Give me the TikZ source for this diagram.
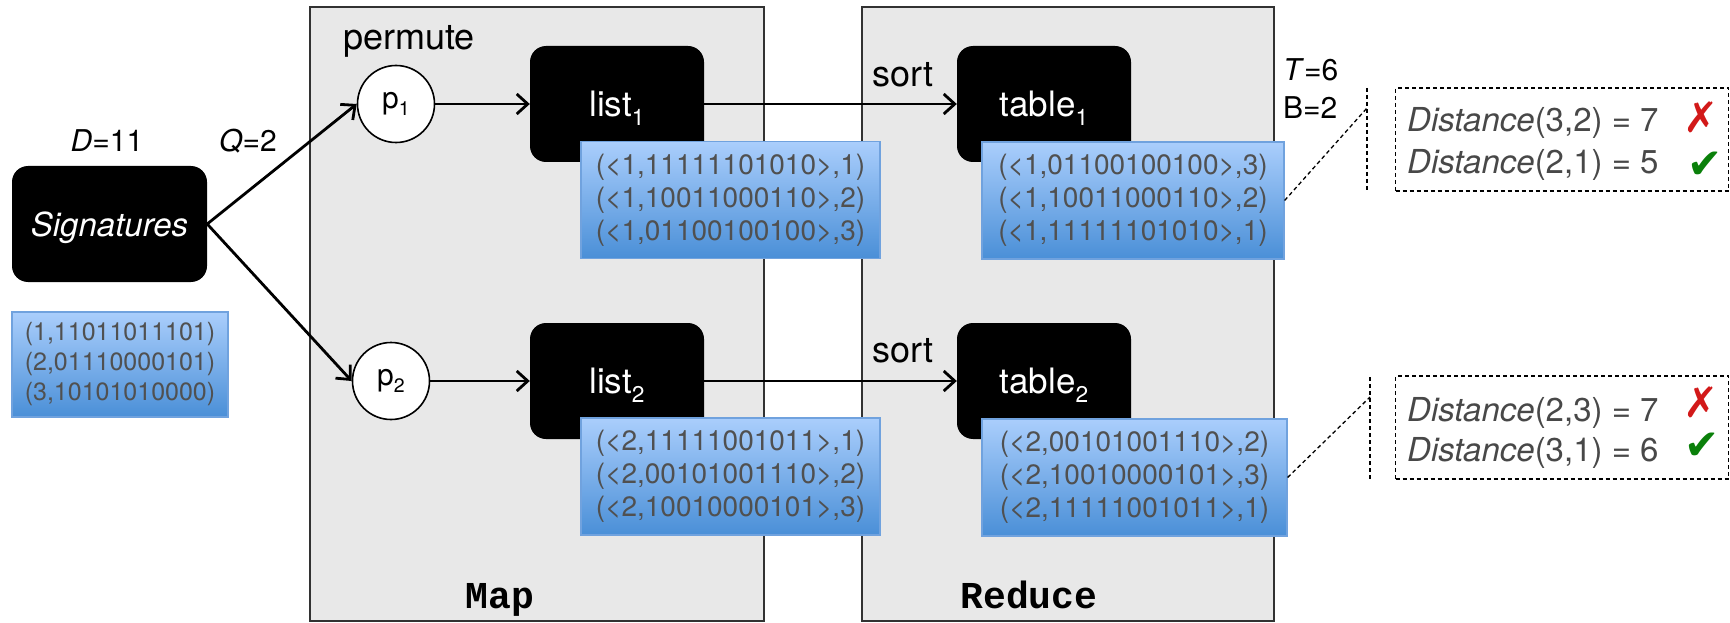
\documentclass[tikz,border=0pt]{standalone}
\usepackage{fontspec}
\setmainfont{TeX Gyre Heros}
\newfontfamily\monob{Liberation Mono}
\newfontfamily\symf{DejaVu Sans}
\usetikzlibrary{arrows.meta}

\definecolor{panelgray}{RGB}{232,232,232}
\definecolor{panelline}{RGB}{50,50,50}
\definecolor{bluetop}{RGB}{170,206,252}
\definecolor{bluebot}{RGB}{74,143,215}
\definecolor{blueedge}{RGB}{112,162,222}
\definecolor{recgray}{RGB}{80,80,80}
\definecolor{distgray}{RGB}{72,72,72}
\definecolor{crossred}{RGB}{210,25,25}
\definecolor{tickgreen}{RGB}{10,128,10}

\newcommand\fs[2]{\fontsize{#1}{#2}\selectfont}
\newcommand\lowidx[1]{\raisebox{-0.26em}{\scalebox{0.65}{#1}}}

\begin{document}
\begin{tikzpicture}[x=1pt,y=-1pt,
  panel/.style={draw=panelline, fill=panelgray, line width=1.6pt, inner sep=0pt},
  blackbox/.style={fill=black, rounded corners=16pt, minimum width=174pt,
    minimum height=116pt, text=white, inner sep=0pt, text depth=0pt, font=\fs{35}{40}},
  record/.style={draw=blueedge, line width=1.2pt, top color=bluetop, bottom color=bluebot,
    text=recgray, align=center, inner sep=0pt, minimum width=300pt,
    minimum height=117pt, font=\fs{28}{33}},
  perm/.style={circle, draw=black, fill=white, line width=1.6pt, minimum size=77pt,
    inner sep=0pt, font=\fs{30}{30}},
  flow/.style={line width=2.8pt, -{Straight Barb[length=11pt,width=20pt,line width=2.8pt]}},
  guide/.style={line width=1.3pt, dash pattern=on 4pt off 3pt},
  lbl/.style={inner sep=0pt, anchor=base, font=\fs{30}{30}},
  steplbl/.style={inner sep=0pt, anchor=base, font=\fs{36}{36}},
  phase/.style={inner sep=0pt, anchor=base, font=\monob\bfseries\fs{38}{38}},
  distbox/.style={guide, draw, minimum width=333pt, minimum height=103pt, inner sep=0pt},
  disttxt/.style={inner sep=0pt, anchor=base west, text=distgray, font=\fs{33}{33}},
  verdict/.style={inner sep=0pt, font=\symf\fs{42}{42}},
]
\useasboundingbox (0,0) rectangle (1730,623);

% Map and Reduce panels
\node[panel, minimum width=454pt, minimum height=614pt] (map) at (537,314) {};
\node[panel, minimum width=412pt, minimum height=614pt] (reduce) at (1068,314) {};
\node[phase] (maplbl) at (500,608) {Map};
\node[phase] (reducelbl) at (1029,608) {Reduce};

% input signatures
\node[blackbox, minimum width=195pt, font=\itshape\fs{33}{40}] (sig) at (109.5,224) {Signatures};
\node[lbl] (dval) at (107,152) {\textit{D}=11};
\node[lbl] (qval) at (248,152) {\textit{Q}=2};
\node[record, minimum width=216pt, minimum height=105pt, font=\fs{25}{30}] (sigrec) at (120,364.5)
  {(1,11011011101)\\(2,01110000101)\\(3,10101010000)};

% permutations
\node[steplbl] (permlbl) at (409,50) {permute};
\node[perm] (p1) at (396,104) {p\lowidx{1}};
\node[perm] (p2) at (391,381) {p\lowidx{2}};

% lists and tables
\node[blackbox] (list1) at (617,104) {list\lowidx{1}};
\node[blackbox] (list2) at (617,381) {list\lowidx{2}};
\node[blackbox] (table1) at (1044,104) {table\lowidx{1}};
\node[blackbox] (table2) at (1044,381) {table\lowidx{2}};
\node[steplbl] (sort1) at (903,87) {sort};
\node[steplbl] (sort2) at (903,362) {sort};

% flow arrows
\draw[flow] (sig.east) -- (p1.west);
\draw[flow] (sig.east) -- (p2.west);
\draw[flow] (p1.east) -- (list1.west);
\draw[flow] (p2.east) -- (list2.west);
\draw[flow] (list1.east) -- (table1.west);
\draw[flow] (list2.east) -- (table2.west);

% records
\node[record, minimum width=299pt] (l1rec) at (730.5,200)
  {(<1,11111101010>,1)\\(<1,10011000110>,2)\\(<1,01100100100>,3)};
\node[record, minimum width=299pt] (l2rec) at (730.5,476.5)
  {(<2,11111001011>,1)\\(<2,00101001110>,2)\\(<2,10010000101>,3)};
\node[record, minimum width=302pt] (t1rec) at (1133,200.5)
  {(<1,01100100100>,3)\\(<1,10011000110>,2)\\(<1,11111101010>,1)};
\node[record, minimum width=305pt] (t2rec) at (1134.5,477.5)
  {(<2,00101001110>,2)\\(<2,10010000101>,3)\\(<2,11111001011>,1)};

% parameters
\node[lbl, anchor=base west] (tval) at (1283,81) {\textit{T}=6};
\node[lbl, anchor=base west] (bval) at (1283,119) {B=2};

% candidate pair checks, first table
\coordinate (lead1) at (1367,108);
\coordinate (bar1a) at (1367,88);
\coordinate (bar1b) at (1367,190);
\draw[guide] (t1rec.east) -- (lead1);
\draw[guide] (bar1a) -- (bar1b);
\node[distbox] (dist1) at (1562,139.5) {};
\node[disttxt] (d1a) at (1407,132) {\textit{Distance}(3,2) = 7};
\node[disttxt] (d1b) at (1407,173) {\textit{Distance}(2,1) = 5};
\node[verdict, text=crossred] (x1) at (1701,117) {✗};
\node[verdict, text=tickgreen] (c1) at (1705,165) {✔};

% candidate pair checks, second table
\coordinate (lead2) at (1370,397);
\coordinate (bar2a) at (1370,377);
\coordinate (bar2b) at (1370,479);
\draw[guide] (t2rec.east) -- (lead2);
\draw[guide] (bar2a) -- (bar2b);
\node[distbox] (dist2) at (1562,427.5) {};
\node[disttxt] (d2a) at (1407,421) {\textit{Distance}(2,3) = 7};
\node[disttxt] (d2b) at (1407,461) {\textit{Distance}(3,1) = 6};
\node[verdict, text=crossred] (x2) at (1701,402) {✗};
\node[verdict, text=tickgreen] (c2) at (1702,446) {✔};
\end{tikzpicture}
\end{document}
